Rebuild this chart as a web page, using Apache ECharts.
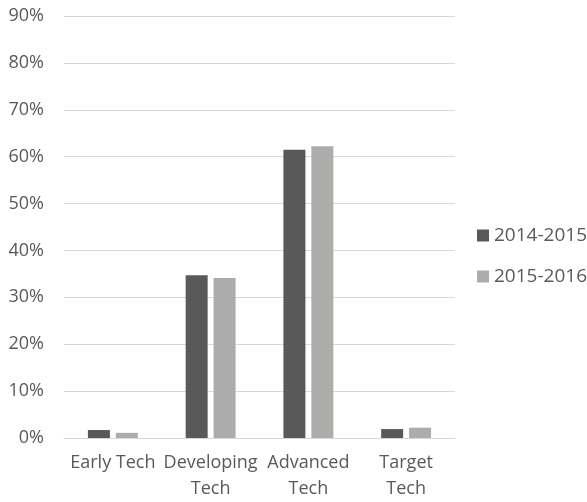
<!DOCTYPE html>
<html>
<head>
<meta charset="utf-8">
<script src="https://cdn.jsdelivr.net/npm/echarts@6/dist/echarts.min.js"></script>
<style>
html, body { margin: 0; padding: 0; background: #fff; }
#chart { width: 587px; height: 502px; }
</style>
</head>
<body>
<div id="chart"></div>
<script>
// data
var categories = ['Early Tech', 'Developing\nTech', 'Advanced\nTech', 'Target\nTech'];
var series_names = ['2014-2015', '2015-2016'];
var values_2014 = [1.7, 34.7, 61.5, 1.9];
var values_2015 = [1.1, 34.1, 62.2, 2.2];
var series_colors = ['#595959', '#AEABAB'];

var font = '"Open Sans", "DejaVu Sans", sans-serif';

var option = {
    animation: false,
    textStyle: { fontFamily: font },
    grid: { left: 64, right: 132, top: 16, bottom: 64, containLabel: false },
    legend: {
        orient: 'vertical',
        left: 477,
        top: 226,
        padding: 0,
        itemWidth: 12,
        itemHeight: 12,
        itemGap: 22,
        icon: 'rect',
        textStyle: { fontSize: 19, lineHeight: 19, color: '#595959', fontFamily: font },
        data: series_names
    },
    xAxis: {
        type: 'category',
        data: categories,
        axisLine: { lineStyle: { color: '#D9D9D9' } },
        axisTick: { show: false },
        axisLabel: {
            interval: 0,
            color: '#595959',
            fontSize: 18,
            margin: 12,
            lineHeight: 26,
            fontFamily: font
        }
    },
    yAxis: {
        type: 'value',
        min: 0,
        max: 90,
        interval: 10,
        axisLine: { show: false },
        axisTick: { show: false },
        splitLine: { lineStyle: { color: '#D9D9D9' } },
        axisLabel: {
            color: '#595959',
            fontSize: 18,
            margin: 20,
            fontFamily: font,
            formatter: '{value}%'
        }
    },
    series: [
        {
            name: series_names[0],
            type: 'bar',
            data: values_2014,
            barWidth: '22.5%',
            barGap: '27%',
            itemStyle: { color: series_colors[0] }
        },
        {
            name: series_names[1],
            type: 'bar',
            data: values_2015,
            barWidth: '22.5%',
            itemStyle: { color: series_colors[1] }
        }
    ]
};

var chart = echarts.init(document.getElementById('chart'));
chart.setOption(option);
</script>
</body>
</html>
